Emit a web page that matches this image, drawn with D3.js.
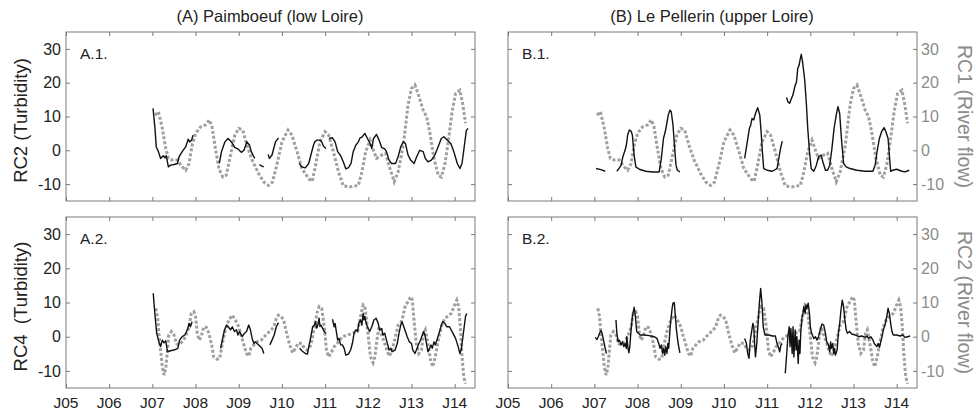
<!DOCTYPE html>
<html><head><meta charset="utf-8">
<script src="https://cdn.jsdelivr.net/npm/d3@7"></script>
<style>body{margin:0;background:#fff}svg{display:block}text{font-family:"Liberation Sans",Arial,sans-serif}</style>
</head><body><svg id="c" width="976" height="412"></svg>
<script>
const tickYears = [2005,2006,2007,2008,2009,2010,2011,2012,2013,2014];
const tickLabels = ["J05","J06","J07","J08","J09","J10","J11","J12","J13","J14"];
const yTicks = [-10,0,10,20,30];
const panelTitles = ["(A) Paimboeuf (low Loire)","(B) Le Pellerin (upper Loire)"];
const panelTags = ["A.1.","B.1.","A.2.","B.2."];
const leftTitles = ["RC2 (Turbidity)","RC4  (Turbidity)"];
const rightTitles = ["RC1 (River flow)","RC2 (River flow)"];

// River flow, RC1 (grey dashed, top row)
const flowRC1 = [[
[2007.06,10.4],[2007.14,11.4],[2007.23,6.5],[2007.31,0.5],[2007.37,-2.4],[2007.46,-2.9],[2007.58,-2.9],[2007.69,-4.9],[2007.77,-5.9],[2007.85,-3.9],[2007.92,1.5],[2008.0,5],[2008.12,7],[2008.23,7.5],[2008.32,9],[2008.38,7],[2008.46,0.5],[2008.54,-5.4],[2008.63,-7.9],[2008.71,-7.4],[2008.81,-1.4],[2008.91,4.5],[2009.0,6.5],[2009.09,6],[2009.19,1.5],[2009.31,-2.9],[2009.46,-6.9],[2009.58,-9.4],[2009.69,-10.4],[2009.78,-9.4],[2009.88,-4.4],[2010.0,2.5],[2010.14,6],[2010.23,4.5],[2010.35,-0.4],[2010.46,-5.4],[2010.62,-8.4],[2010.70,-9.2],[2010.78,-4.4],[2010.88,2.5],[2011.0,5.5],[2011.08,4.5],[2011.19,-0.4],[2011.31,-6.4],[2011.42,-10.5],[2011.58,-10.8],[2011.77,-10.4],[2011.85,-6.4],[2011.94,-0.4],[2012.04,3],[2012.12,0],[2012.19,-2.4],[2012.31,-1.4],[2012.40,-0.9],[2012.50,-5.4],[2012.60,-9.3],[2012.69,-6.4],[2012.81,1.5],[2012.92,13.4],[2013.0,18.3],[2013.08,19.3],[2013.15,16.8],[2013.27,11.9],[2013.35,9.9],[2013.42,5.5],[2013.52,-2.4],[2013.62,-7.4],[2013.69,-7.9],[2013.77,-4.4],[2013.85,2.5],[2013.94,11.4],[2014.02,16.8],[2014.12,17.8],[2014.19,13.4],[2014.25,8]
]];

// River flow, RC2 (grey dashed, bottom row)
const flowRC2 = [[
[2007.08,8.3],[2007.12,5.9],[2007.15,1],[2007.19,-3.9],[2007.23,-8.8],[2007.27,-11.2],[2007.31,-9.3],[2007.35,-3.9],[2007.38,0.5],[2007.44,1.5],[2007.50,0.5],[2007.56,-2],[2007.62,-2.4],[2007.69,-1.5],[2007.77,0],[2007.85,2.9],[2007.90,6.8],[2007.96,7.3],[2008.0,5.9],[2008.04,1],[2008.08,-1],[2008.13,0],[2008.19,2.9],[2008.25,2.7],[2008.31,1],[2008.38,-2.9],[2008.42,-5.9],[2008.50,-6.6],[2008.56,-6.3],[2008.62,-2],[2008.69,2],[2008.77,4.9],[2008.85,6.3],[2008.92,4.9],[2009.0,2.9],[2009.05,0.5],[2009.12,-2.4],[2009.18,-4.9],[2009.23,-5.7],[2009.28,-3.4],[2009.35,-2.4],[2009.42,-1.5],[2009.52,-1],[2009.59,0],[2009.67,1],[2009.75,2],[2009.81,2.9],[2009.87,5.4],[2009.92,6.3],[2009.98,5.9],[2010.04,4.9],[2010.10,1.5],[2010.18,-2.4],[2010.25,-4.7],[2010.31,-3.4],[2010.38,-1.8],[2010.46,-2],[2010.52,-3.4],[2010.58,-3.9],[2010.67,-2.5],[2010.75,2.9],[2010.82,7.3],[2010.86,8.8],[2010.92,8.3],[2010.98,2.9],[2011.03,-3.9],[2011.08,-5.9],[2011.13,-4.9],[2011.21,-2.9],[2011.31,-1.5],[2011.40,0],[2011.52,0.5],[2011.63,1],[2011.75,1.5],[2011.82,5.9],[2011.88,9.3],[2011.92,8.8],[2011.95,5.9],[2012.0,0],[2012.05,-5.9],[2012.11,-7.6],[2012.15,-5.9],[2012.21,0],[2012.25,2.9],[2012.31,0.5],[2012.38,-2],[2012.44,-4.4],[2012.49,-5.7],[2012.55,-3.9],[2012.63,0],[2012.69,3.4],[2012.75,4.1],[2012.80,5.9],[2012.86,9.3],[2012.92,10.2],[2012.98,11.7],[2013.02,10.7],[2013.05,5.9],[2013.11,-2],[2013.17,-4.9],[2013.23,-3.9],[2013.28,1],[2013.32,2],[2013.38,-2],[2013.44,-6.8],[2013.49,-8.8],[2013.55,-5.9],[2013.62,-1],[2013.69,2.9],[2013.77,5.4],[2013.85,6],[2013.92,6.8],[2014.0,9.3],[2014.05,10.7],[2014.09,8.8],[2014.13,2.9],[2014.17,-5.9],[2014.21,-11.7],[2014.25,-13.7]
]];

// Turbidity RC2, Paimboeuf (A.1, black)
const turbA1 = [
[[2007.015,12.4],[2007.06,6.5],[2007.09,1],[2007.14,-0.4],[2007.19,-2.4],[2007.25,-1.6],[2007.29,-2.2],[2007.32,-1.6],[2007.37,-4.9],[2007.42,-4.4],[2007.50,-4.2],[2007.58,-3.9],[2007.62,-1.9],[2007.69,-0.4],[2007.77,1],[2007.83,3.3],[2007.86,2.5],[2007.91,3],[2007.94,4.5]],
[[2008.55,-3.9],[2008.60,-0.4],[2008.68,2.5],[2008.75,3.5],[2008.83,2.5],[2008.91,0.8],[2008.98,0.4],[2009.06,-0.6],[2009.12,0],[2009.19,2.5],[2009.25,1.5],[2009.29,-0.4],[2009.35,-1.9],[2009.37,-2.4]],
[[2009.48,-4.2],[2009.52,-4.6],[2009.58,-4.9]],
[[2009.68,-1.2],[2009.71,-2.4],[2009.77,-1.4],[2009.85,2.5],[2009.92,3.7]],
[[2010.40,-3.9],[2010.46,-4.9],[2010.54,-5.2],[2010.62,-3.9],[2010.67,-1.4],[2010.73,1.5],[2010.76,2.5],[2010.81,3],[2010.88,3],[2010.92,2.5],[2010.96,1.3],[2011.02,0.5]],
[[2011.09,3.5],[2011.17,3.7],[2011.23,2.5],[2011.29,-0.4],[2011.35,-1.4],[2011.42,-3.4],[2011.48,-5.5],[2011.54,-5.1],[2011.60,-3.9],[2011.65,-0.4],[2011.71,1.5],[2011.77,2.5],[2011.81,3.7],[2011.86,4],[2011.92,5],[2011.98,3.5],[2012.04,2],[2012.08,0.5],[2012.12,3.5],[2012.19,4.7],[2012.25,3],[2012.31,0.8],[2012.38,0.4],[2012.42,-0.4],[2012.48,-2.9],[2012.54,-3.9],[2012.63,-3.9],[2012.69,-1.9],[2012.75,1],[2012.81,2.5],[2012.86,2],[2012.92,-1.4],[2012.98,-2.9],[2013.06,-3.9],[2013.12,-1.9],[2013.19,0],[2013.27,-0.4],[2013.32,-2.4],[2013.38,-3.4],[2013.46,-2.9],[2013.54,-1.4],[2013.63,1.5],[2013.69,3.5],[2013.75,4],[2013.83,3],[2013.91,2],[2013.98,-0.4],[2014.06,-3.9],[2014.12,-5.4],[2014.17,-3.9],[2014.22,1],[2014.27,5.9],[2014.31,6.5]]
];

// Turbidity RC1, Le Pellerin (B.1, black)
const turbB1 = [
[[2007.04,-5.4],[2007.15,-5.7],[2007.25,-6.2]],
[[2007.52,-6.2],[2007.58,-5.2],[2007.62,-4.4],[2007.66,-1.9],[2007.71,0],[2007.74,1.5],[2007.77,4.5],[2007.81,6],[2007.85,5.7],[2007.88,4.5],[2007.92,-1.4],[2007.96,-4.9],[2008.04,-5.6],[2008.19,-6.2],[2008.35,-6.4],[2008.50,-6.4],[2008.55,-2.4],[2008.60,3.5],[2008.65,6],[2008.71,10.4],[2008.75,11.9],[2008.78,11.4],[2008.82,7.5],[2008.86,0.5],[2008.89,-4.4],[2008.92,-5.9],[2008.98,-6.4]],
[[2010.48,-2.4],[2010.54,2.5],[2010.59,6.5],[2010.62,7.5],[2010.65,9.4],[2010.69,9],[2010.73,10.9],[2010.78,12.6],[2010.83,10.4],[2010.86,5.5],[2010.89,-0.4],[2010.92,-5.4],[2011.0,-5.9],[2011.12,-6.2],[2011.23,-5.4],[2011.27,-2.4],[2011.31,0.5],[2011.35,2.7]],
[[2011.45,15.6],[2011.48,14.4],[2011.52,13.9],[2011.55,14.9],[2011.60,16.5],[2011.64,18.8],[2011.68,20.3],[2011.71,24.3],[2011.74,25.2],[2011.77,27.2],[2011.79,28.4],[2011.82,26.2],[2011.87,20.8],[2011.91,13.4],[2011.94,6.5],[2011.98,-0.4],[2012.02,-5.4],[2012.08,-6.2],[2012.14,-4.4],[2012.19,-1.9],[2012.25,-1.4],[2012.29,-3.4],[2012.35,-5.9],[2012.40,-5.9],[2012.45,-4.4],[2012.50,0.5],[2012.55,6.5],[2012.60,10.4],[2012.64,12.9],[2012.68,10.9],[2012.72,3.5],[2012.77,-3.9],[2012.83,-4.9],[2012.92,-5.4],[2013.08,-5.9],[2013.27,-6.2],[2013.45,-6.2],[2013.50,-4.4],[2013.55,0],[2013.60,3.5],[2013.65,5.5],[2013.71,6.7],[2013.75,5.5],[2013.80,3.5],[2013.83,-1.4],[2013.86,-6.2],[2013.91,-5.9],[2014.0,-5.6],[2014.12,-6.2],[2014.19,-6.4],[2014.29,-5.9]]
];

// Turbidity RC4, Paimboeuf (A.2, black)
const turbA2 = [
[[2007.02,12.7],[2007.05,7.8],[2007.10,1],[2007.15,-1.5],[2007.19,-2.9],[2007.23,-1],[2007.27,-1.8],[2007.31,-1.2],[2007.35,-4.4],[2007.42,-4.1],[2007.50,-3.9],[2007.59,-3.4],[2007.63,-1],[2007.69,0],[2007.75,0.5],[2007.79,1.5],[2007.82,2.4],[2007.85,3.9],[2007.88,2.9],[2007.92,4.4]],
[[2008.58,-3.4],[2008.62,-1],[2008.67,2],[2008.72,3.4],[2008.77,2.7],[2008.81,2],[2008.85,2.9],[2008.90,1.5],[2008.95,2],[2008.98,0.5],[2009.02,1.5],[2009.08,0],[2009.13,1],[2009.18,1.5],[2009.23,3.4],[2009.27,2],[2009.31,-0.5],[2009.35,-2],[2009.38,-1.5],[2009.46,-2.4],[2009.54,-3.4],[2009.58,-4.9]],
[[2009.72,-2.4],[2009.77,-1],[2009.82,0.5],[2009.87,2.9],[2009.92,4.1]],
[[2010.41,-3.4],[2010.46,-4.1],[2010.54,-4.9],[2010.59,-5.1],[2010.63,-2.4],[2010.67,0],[2010.71,2.9],[2010.75,3.4],[2010.78,4.4],[2010.80,2.5],[2010.82,2.9],[2010.84,4],[2010.86,5.4],[2010.88,3],[2010.90,3.4],[2010.94,2.5],[2010.98,1.5],[2011.02,1]],
[[2011.17,5.1],[2011.21,2.9],[2011.23,3.9],[2011.26,1.5],[2011.29,-1],[2011.32,-0.5],[2011.36,-2.4],[2011.40,-2.4],[2011.44,-3.4],[2011.48,-5.4],[2011.54,-5.1],[2011.59,-3.9],[2011.63,-2],[2011.67,1],[2011.71,2],[2011.75,1.5],[2011.78,3.9],[2011.82,4.9],[2011.85,3.4],[2011.88,6.8],[2011.90,4.9],[2011.92,5.9],[2011.95,3.9],[2011.98,2.9],[2012.03,1.5],[2012.08,2.9],[2012.13,4.9],[2012.18,5.4],[2012.23,3.9],[2012.26,2],[2012.31,2.4],[2012.34,0.5],[2012.38,1],[2012.42,-1],[2012.45,-2.4],[2012.48,-3.9],[2012.52,-3.4],[2012.55,-4.4],[2012.62,-3.9],[2012.67,-2],[2012.71,1],[2012.75,3.4],[2012.78,4.4],[2012.82,2.9],[2012.86,1.5],[2012.90,0],[2012.95,-1.5],[2013.0,-2],[2013.03,-3.9],[2013.08,-4.9],[2013.13,-3.4],[2013.17,-2],[2013.21,-1],[2013.25,0.5],[2013.28,1.5],[2013.31,0.5],[2013.34,-1.5],[2013.38,-4.4],[2013.42,-3.4],[2013.45,-2.4],[2013.48,-3.4],[2013.52,-1.5],[2013.55,-2.4],[2013.60,-0.5],[2013.65,1.5],[2013.69,3.4],[2013.72,4.4],[2013.77,3.9],[2013.82,2.9],[2013.88,2.9],[2013.94,1.5],[2014.02,-0.5],[2014.08,-2.9],[2014.12,-4.9],[2014.15,-3.9],[2014.18,-1],[2014.22,2.9],[2014.25,5.9],[2014.28,6.8]]
];

// Turbidity RC2, Le Pellerin (B.2, black)
const turbB2 = [
[[2007.02,-0.2],[2007.06,-0.8],[2007.09,0],[2007.12,1],[2007.15,1.8],[2007.18,1],[2007.22,-1.5],[2007.25,-3.4],[2007.28,-4.9]],
[[2007.50,4.9],[2007.52,1],[2007.55,-1.5],[2007.58,-1],[2007.62,-2.4],[2007.65,-1.5],[2007.68,-2.9],[2007.71,-2],[2007.74,-3.4],[2007.75,0],[2007.78,-3.4],[2007.80,-4.7],[2007.82,-2.9],[2007.85,2],[2007.88,5.9],[2007.92,8.6],[2007.95,5.9],[2007.98,1.5],[2008.02,1],[2008.06,0.5],[2008.15,0.5],[2008.27,0.3],[2008.38,0],[2008.45,-0.5],[2008.49,-2],[2008.52,-3.4],[2008.55,-2.4],[2008.58,-4.9],[2008.60,-3.4],[2008.63,-5.4],[2008.65,-2.9],[2008.68,-4.9],[2008.70,-2],[2008.72,-3.4],[2008.75,2],[2008.77,4.9],[2008.80,8.3],[2008.82,9.8],[2008.85,10],[2008.87,6.8],[2008.90,2],[2008.94,-2],[2008.98,-4.7]],
[[2010.48,-0.5],[2010.52,-2],[2010.55,-4.9],[2010.58,-6.3],[2010.61,-1],[2010.64,1.5],[2010.67,3.9],[2010.69,3],[2010.71,-2],[2010.73,-5.9],[2010.76,-2],[2010.79,3.9],[2010.82,9.8],[2010.85,14.1],[2010.88,9.8],[2010.91,2.9],[2010.95,0.5],[2011.04,0.5],[2011.12,0.2],[2011.19,0.2],[2011.23,-2],[2011.27,-3.4],[2011.29,-4.4],[2011.32,-2.4],[2011.35,-2]],
[[2011.42,-10.7],[2011.46,-3.9],[2011.48,0],[2011.51,2.9],[2011.53,-2.9],[2011.55,2.4],[2011.58,-4.9],[2011.60,2.9],[2011.62,-5.9],[2011.65,2],[2011.67,-3.9],[2011.69,0],[2011.72,-7.8],[2011.74,-1],[2011.76,-4.9],[2011.78,1.5],[2011.81,5.9],[2011.83,6.8],[2011.85,8.8],[2011.88,6.8],[2011.90,9.3],[2011.92,8.3],[2011.95,9.8],[2011.98,6.8],[2012.0,2.9],[2012.03,1],[2012.08,-0.5],[2012.12,0],[2012.15,-1],[2012.19,0],[2012.23,2],[2012.27,3.7],[2012.31,3.4],[2012.35,1],[2012.38,-1.5],[2012.42,-2.4],[2012.45,-4.4],[2012.47,-1.5],[2012.49,-3.4],[2012.52,-2],[2012.54,-4.9],[2012.56,-3.4],[2012.58,-5.4],[2012.62,-3.9],[2012.65,1],[2012.68,3.9],[2012.71,7.8],[2012.74,10.7],[2012.77,8.8],[2012.80,4.9],[2012.83,2],[2012.86,1],[2012.91,1.5],[2012.96,0.8],[2013.04,0.5],[2013.12,0],[2013.19,0.2],[2013.27,-0.2],[2013.31,0.2],[2013.35,-0.5],[2013.40,0],[2013.45,-1],[2013.48,-2],[2013.51,-2.4],[2013.54,-2.9],[2013.57,-2],[2013.60,-3.1],[2013.63,-1.5],[2013.66,0],[2013.69,2],[2013.73,3.4],[2013.77,5.9],[2013.80,8.3],[2013.83,6.8],[2013.86,3.9],[2013.89,1.5],[2013.92,0.5],[2014.0,0.5],[2014.08,0.2],[2014.14,0.5],[2014.19,-0.2],[2014.25,0],[2014.31,0.2]]
];

const svg = d3.select("#c");
const panels = [
  {x0:66, x1:475, y0:32, y1:201, tag:panelTags[0], flow:flowRC1, turb:turbA1, left:true, title:leftTitles[0]},
  {x0:508, x1:917, y0:32, y1:201, tag:panelTags[1], flow:flowRC1, turb:turbB1, left:false, title:rightTitles[0]},
  {x0:66, x1:475, y0:217, y1:388, tag:panelTags[2], flow:flowRC2, turb:turbA2, left:true, title:leftTitles[1], bottom:true},
  {x0:508, x1:917, y0:217, y1:388, tag:panelTags[3], flow:flowRC2, turb:turbB2, left:false, title:rightTitles[1], bottom:true}
];
const frameCol = "#7a7a7a";

panels.forEach((p,i)=>{
  const x = d3.scaleLinear().domain([2005, 2014.47]).range([p.x0, p.x1]);
  const y = d3.scaleLinear().domain([-15, 35]).range([p.y1, p.y0]);
  const g = svg.append("g");
  const cid = "clip"+i;
  svg.append("clipPath").attr("id",cid).append("rect")
    .attr("x",p.x0).attr("y",p.y0).attr("width",p.x1-p.x0).attr("height",p.y1-p.y0);
  const line = d3.line().x(d=>x(d[0])).y(d=>y(d[1]));
  const dg = g.append("g").attr("clip-path",`url(#${cid})`);
  p.flow.forEach(seg=>{
    dg.append("path").attr("d",line(seg)).attr("fill","none")
      .attr("stroke","#a0a0a0").attr("stroke-width",3).attr("stroke-dasharray","3,2");
  });
  p.turb.forEach(seg=>{
    dg.append("path").attr("d",line(seg)).attr("fill","none")
      .attr("stroke","#111").attr("stroke-width",1.4).attr("stroke-linejoin","round");
  });
  const tl = 4;
  const ag = g.append("g");
  ag.append("g").attr("transform",`translate(0,${p.y1})`).call(d3.axisTop(x).tickValues(tickYears).tickSize(tl).tickFormat("")).call(s=>s.select(".domain").remove());
  ag.append("g").attr("transform",`translate(0,${p.y0})`).call(d3.axisBottom(x).tickValues(tickYears).tickSize(tl).tickFormat("")).call(s=>s.select(".domain").remove());
  ag.append("g").attr("transform",`translate(${p.x0},0)`).call(d3.axisRight(y).tickValues(yTicks).tickSize(tl).tickFormat("")).call(s=>s.select(".domain").remove());
  ag.append("g").attr("transform",`translate(${p.x1},0)`).call(d3.axisLeft(y).tickValues(yTicks).tickSize(tl).tickFormat("")).call(s=>s.select(".domain").remove());
  ag.selectAll("line").attr("stroke",frameCol);
  g.append("rect").attr("x",p.x0).attr("y",p.y0).attr("width",p.x1-p.x0).attr("height",p.y1-p.y0)
    .attr("fill","none").attr("stroke",frameCol).attr("stroke-width",1);
  yTicks.forEach(v=>{
    if(p.left){
      g.append("text").attr("x",p.x0-5).attr("y",y(v)).attr("dy","0.36em").attr("text-anchor","end")
        .attr("font-size",16).attr("fill","#222").text(v);
    } else {
      g.append("text").attr("x",p.x1+4).attr("y",y(v)).attr("dy","0.36em").attr("text-anchor","start")
        .attr("font-size",16).attr("fill","#8c8c8c").text(v);
    }
  });
  if(p.bottom){
    tickYears.forEach((t,k)=>{
      g.append("text").attr("x",x(t)).attr("y",p.y1+14).attr("dy","0.36em").attr("text-anchor","middle")
        .attr("font-size",15.5).attr("fill","#222").text(tickLabels[k]);
    });
  }
  g.append("text").attr("x",p.x0+14).attr("y",p.y0+21).attr("dy","0.36em")
    .attr("font-size",15.5).attr("fill","#222").text(p.tag);
  const cy = (p.y0+p.y1)/2;
  if(p.left){
    g.append("text").attr("transform",`translate(20,${cy+4}) rotate(-90)`).attr("text-anchor","middle")
      .attr("dy","0.36em").attr("font-size",18.5).attr("fill","#222").style("white-space","pre").text(p.title);
  } else {
    g.append("text").attr("transform",`translate(965,${cy}) rotate(90)`).attr("text-anchor","middle")
      .attr("dy","0.36em").attr("font-size",19.5).attr("fill","#8c8c8c").text(p.title);
  }
});
svg.append("text").attr("x",270).attr("y",16).attr("dy","0.36em").attr("text-anchor","middle")
  .attr("font-size",16.5).attr("fill","#222").text(panelTitles[0]);
svg.append("text").attr("x",712).attr("y",16).attr("dy","0.36em").attr("text-anchor","middle")
  .attr("font-size",16.5).attr("fill","#222").text(panelTitles[1]);
</script></body></html>
